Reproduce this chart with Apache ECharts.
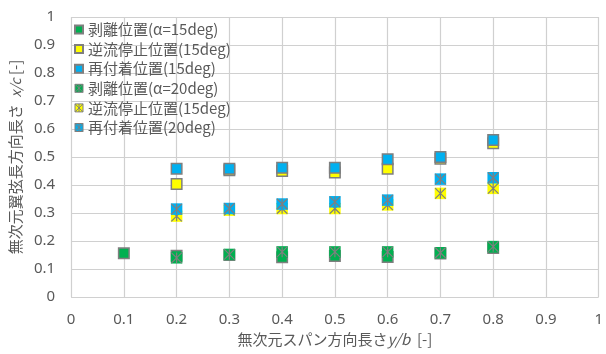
<!DOCTYPE html>
<html>
<head>
<meta charset="utf-8">
<script src="https://cdn.jsdelivr.net/npm/echarts@6/dist/echarts.min.js"></script>
<style>
  html, body { margin: 0; padding: 0; background: #fff; }
  #chart { width: 606px; height: 354px; }
</style>
</head>
<body>
<div id="chart"></div>
<script>
// Spanwise stations y/b
const spanSep15 = [0.1, 0.2, 0.3, 0.4, 0.5, 0.6, 0.7, 0.8];
const spanOther = [0.2, 0.3, 0.4, 0.5, 0.6, 0.7, 0.8];

// Chordwise positions x/c
const sep15  = [0.156, 0.147, 0.150, 0.142, 0.146, 0.143, 0.155, 0.175];
const stop15 = [0.404, 0.453, 0.450, 0.445, 0.458, 0.494, 0.549];
const reat15 = [0.458, 0.458, 0.462, 0.462, 0.492, 0.500, 0.561];
const sep20  = [0.140, 0.152, 0.161, 0.161, 0.161, 0.158, 0.180];
const stop20 = [0.289, 0.310, 0.316, 0.316, 0.329, 0.370, 0.388];
const reat20 = [0.314, 0.316, 0.332, 0.340, 0.346, 0.421, 0.426];

const names = [
  '剥離位置(α=15deg)',
  '逆流停止位置(15deg)',
  '再付着位置(15deg)',
  '剥離位置(α=20deg)',
  '逆流停止位置(15deg) ',
  '再付着位置(20deg)'
];

const GREEN = '#00b050', YELLOW = '#ffff00', BLUE = '#00b0f0', GRAY = '#7f7f7f';
const STAR = 'path://M0,0L10,10M10,0L0,10M5,0L5,10';
const BOX_STAR = 'path://M0,0L10,0L10,10L0,10Z M0,0L10,10M10,0L0,10M5,0L5,10';

const pairs = (xs, ys) => xs.map((x, i) => [x, ys[i]]);

function plainSeries(name, xs, ys, color) {
  return {
    type: 'scatter', name, data: pairs(xs, ys),
    symbol: 'rect', symbolSize: 10.5,
    itemStyle: { color, borderColor: GRAY, borderWidth: 1.5, opacity: 1 },
    emphasis: { disabled: true }
  };
}
function starSeries(name, xs, ys, color) {
  return [
    {
      type: 'scatter', name, data: pairs(xs, ys),
      symbol: 'rect', symbolSize: 11.5,
      itemStyle: { color, opacity: 1 },
      emphasis: { disabled: true }
    },
    {
      type: 'scatter', name, data: pairs(xs, ys),
      symbol: STAR, symbolSize: 10.5,
      itemStyle: { color: 'none', borderColor: GRAY, borderWidth: 1.2, opacity: 1 },
      emphasis: { disabled: true }
    }
  ];
}

const labelFont = { fontFamily: "'Noto Sans', sans-serif", fontSize: 15, color: '#595959' };
const cjk = "'Noto Sans CJK JP', sans-serif";

const chart = echarts.init(document.getElementById('chart'), null, { renderer: 'canvas' });
chart.setOption({
  animation: false,
  backgroundColor: '#fff',
  grid: { left: 71, right: 3, top: 17, bottom: 57, containLabel: false },
  legend: {
    orient: 'vertical', left: 74, top: 22, padding: 0,
    itemWidth: 8, itemHeight: 8, itemGap: 4.6,
    textStyle: { fontFamily: cjk, fontSize: 15, color: '#595959' },
    selectedMode: false,
    data: [
      { name: names[0], icon: 'rect' },
      { name: names[1], icon: 'rect' },
      { name: names[2], icon: 'rect' },
      { name: names[3], icon: BOX_STAR, itemStyle: { color: GREEN, borderColor: GRAY, borderWidth: 1 } },
      { name: names[4], icon: BOX_STAR, itemStyle: { color: YELLOW, borderColor: GRAY, borderWidth: 1 } },
      { name: names[5], icon: BOX_STAR, itemStyle: { color: BLUE, borderColor: GRAY, borderWidth: 1 } }
    ]
  },
  xAxis: {
    type: 'value', min: 0, max: 1, interval: 0.1,
    name: '無次元スパン方向長さ{it|y/b}  [-]',
    nameLocation: 'middle', nameGap: 33,
    nameTextStyle: {
      fontFamily: cjk, fontSize: 15, color: '#595959',
      rich: { it: { fontFamily: cjk, fontSize: 15, fontStyle: 'italic', color: '#595959' } }
    },
    axisLine: { show: false }, axisTick: { show: false },
    axisLabel: Object.assign({ margin: 15 }, labelFont),
    splitLine: { show: true, lineStyle: { color: '#d0d0d0', width: 1.2 } }
  },
  yAxis: {
    type: 'value', min: 0, max: 1, interval: 0.1,
    name: '無次元翼弦長方向長さ  {it|x/c} [-]',
    nameLocation: 'middle', nameGap: 40, nameRotate: 90,
    nameTextStyle: {
      fontFamily: cjk, fontSize: 15, color: '#595959',
      rich: { it: { fontFamily: cjk, fontSize: 14, fontStyle: 'italic', color: '#595959' } }
    },
    axisLine: { show: false }, axisTick: { show: false },
    axisLabel: Object.assign({ margin: 16 }, labelFont),
    splitLine: { show: true, lineStyle: { color: '#d0d0d0', width: 1.2 } }
  },
  series: [
    plainSeries(names[0], spanSep15, sep15, GREEN),
    plainSeries(names[1], spanOther, stop15, YELLOW),
    plainSeries(names[2], spanOther, reat15, BLUE),
    ...starSeries(names[3], spanOther, sep20, GREEN),
    ...starSeries(names[4], spanOther, stop20, YELLOW),
    ...starSeries(names[5], spanOther, reat20, BLUE)
  ]
});
</script>
</body>
</html>
